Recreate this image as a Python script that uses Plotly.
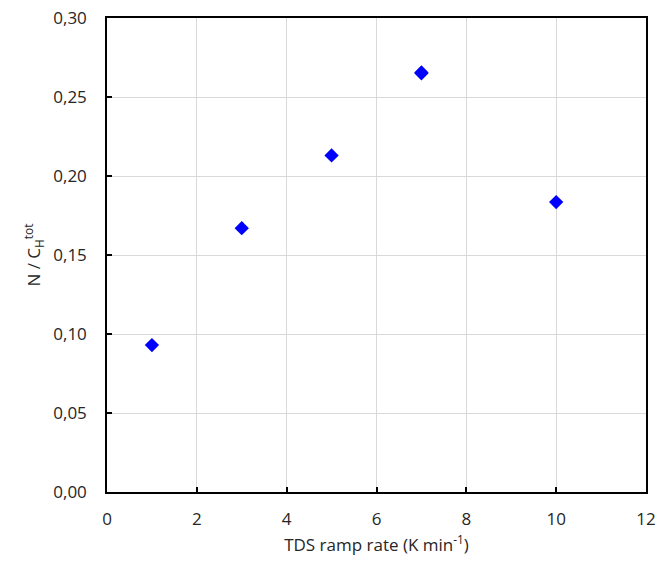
import plotly.graph_objects as go

ramp_rate = [1, 3, 5, 7, 7, 10]
n_over_ch = [0.093, 0.167, 0.213, 0.2655, 0.2650, 0.1835]

x_ticks = [0, 2, 4, 6, 8, 10, 12]
y_ticks = [0.00, 0.05, 0.10, 0.15, 0.20, 0.25, 0.30]

font_family = "Open Sans, Lato, sans-serif"
text_color = "#262626"

fig = go.Figure()
fig.add_trace(go.Scatter(
    x=ramp_rate, y=n_over_ch, mode="markers",
    marker=dict(symbol="diamond", size=11, color="#0000FF", line=dict(width=0)),
    showlegend=False,
))

axis_common = dict(
    showline=True, linecolor="black", linewidth=1.5, mirror=True,
    ticks="inside", ticklen=5, tickcolor="black", tickwidth=1.5,
    showgrid=True, gridcolor="#d9d9d9", gridwidth=1.2,
    zeroline=False, automargin=False,
    tickfont=dict(size=17, color=text_color, family=font_family),
)

fig.update_xaxes(
    range=[0, 12], tickvals=x_ticks, ticktext=[str(v) for v in x_ticks],
    ticklabelstandoff=11,
    title=dict(text="TDS ramp rate (K min<sup>-1</sup>)", font=dict(size=17, color=text_color, family=font_family), standoff=10),
    **axis_common,
)
fig.update_yaxes(
    range=[0, 0.30], tickvals=y_ticks, ticktext=[f"{v:.2f}".replace(".", ",") for v in y_ticks],
    ticklabelstandoff=15,
    title=dict(text="N / C<sub>H</sub><sup>tot</sup>", font=dict(size=17, color=text_color, family=font_family), standoff=8),
    **axis_common,
)

fig.update_layout(
    width=660, height=570,
    margin=dict(l=107, r=14, t=18, b=78),
    plot_bgcolor="white", paper_bgcolor="white",
)

fig.write_html("out.html", config={"displayModeBar": False},
               post_script="document.body.style.margin='0';")
